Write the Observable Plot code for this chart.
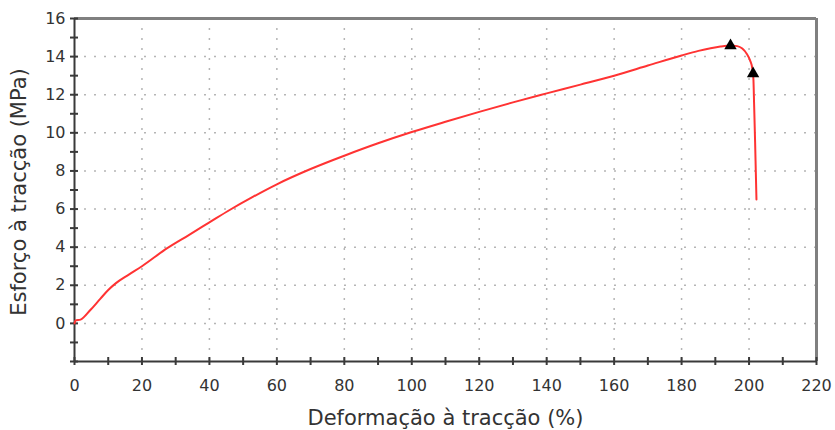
<!DOCTYPE html>
<html><head><meta charset="utf-8">
<script src="https://cdn.jsdelivr.net/npm/d3@7"></script>
<script src="https://cdn.jsdelivr.net/npm/@observablehq/plot@0.6"></script>
<style>body{margin:0;background:#fff}</style>
</head><body><div id="chart"></div>
<script>
// Curve (tensile strain %, stress MPa)
const strain = [0, 0.3, 1.8, 4.7, 7.7, 10, 12.2, 16, 20, 27.5, 34, 40, 46, 53, 60, 70, 80, 90, 100, 110, 120, 130, 140, 150, 160, 170, 180, 185, 188.6, 191.5, 194.5, 196.5, 198, 199.3, 200.3, 201, 201.3, 201.5, 201.8, 202, 202.2];
const stress = [0, 0.15, 0.2, 0.7, 1.3, 1.75, 2.1, 2.55, 3.0, 3.95, 4.65, 5.3, 5.95, 6.65, 7.3, 8.1, 8.8, 9.45, 10.04, 10.58, 11.1, 11.6, 12.07, 12.53, 13.0, 13.53, 14.06, 14.3, 14.44, 14.53, 14.58, 14.55, 14.42, 14.15, 13.8, 13.35, 12.8, 11.5, 9.5, 8.0, 6.5];
// Markers (max stress, break)
const markerStrain = [194.5, 201.2];
const markerStress = [14.58, 13.1];
// Tick labels / ticks
const xTickLabels = [0, 20, 40, 60, 80, 100, 120, 140, 160, 180, 200, 220];
const yTickLabels = [0, 2, 4, 6, 8, 10, 12, 14, 16];
const xMinorTicks = [0, 10, 20, 30, 40, 50, 60, 70, 80, 90, 100, 110, 120, 130, 140, 150, 160, 170, 180, 190, 200, 210, 220];
const yMinorTicks = [-2, -1, 0, 1, 2, 3, 4, 5, 6, 7, 8, 9, 10, 11, 12, 13, 14, 15, 16];
const xGrid = [20, 40, 60, 80, 100, 120, 140, 160, 180, 200];
const yGrid = [0, 2, 4, 6, 8, 10, 12, 14];
const xTitle = "Deformação à tracção (%)";
const yTitle = "Esforço à tracção (MPa)";

const curve = strain.map((x, i) => ({x, y: stress[i]}));
const markers = markerStrain.map((x, i) => ({x, y: markerStress[i]}));

const plot = Plot.plot({
  width: 835, height: 430,
  marginTop: 18, marginRight: 19, marginBottom: 69, marginLeft: 74,
  x: {domain: [0, 220]},
  y: {domain: [-2, 16]},
  style: {fontFamily: "DejaVu Sans", background: "white", color: "#333"},
  marks: [
    Plot.ruleX(xGrid, {stroke: "#b5b5b5", strokeDasharray: "2,8", strokeWidth: 1.5}),
    Plot.ruleY(yGrid, {stroke: "#b5b5b5", strokeDasharray: "2,8", strokeWidth: 1.5}),
    Plot.ruleY([16], {stroke: "#808080", strokeWidth: 3}),
    Plot.ruleX([220], {stroke: "#808080", strokeWidth: 3}),
    Plot.ruleY([-2], {stroke: "#3a3a3a", strokeWidth: 2}),
    Plot.ruleX([0], {stroke: "#3a3a3a", strokeWidth: 2}),
    Plot.ruleX(xMinorTicks, {x: d => d, y1: -2, y2: -2, insetTop: 4, insetBottom: 4, stroke: "#3a3a3a", strokeWidth: 2}),
    Plot.ruleY(yMinorTicks, {y: d => d, x1: 0, x2: 0, insetLeft: 4, insetRight: 4, stroke: "#3a3a3a", strokeWidth: 2}),
    Plot.line(curve, {x: "x", y: "y", stroke: "#ff3333", strokeWidth: 2, curve: "monotone-x"}),
    Plot.dot(markers, {x: "x", y: "y", symbol: "triangle", r: 4.6, fill: "black", stroke: "none"}),
    Plot.axisX(xTickLabels, {tickSize: 0, tickPadding: 18, fontSize: 16, label: null}),
    Plot.axisY(yTickLabels, {tickSize: 0, tickPadding: 9, fontSize: 16, label: null}),
    Plot.text([xTitle], {frameAnchor: "bottom", dy: 49, lineAnchor: "top", fontSize: 21, text: d => d, fill: "#333"}),
    Plot.text([yTitle], {frameAnchor: "left", textAnchor: "middle", rotate: -90, dx: -55, dy: 2, fontSize: 21, text: d => d, fill: "#333"})
  ]
});
document.getElementById("chart").appendChild(plot);
</script>
</body></html>
